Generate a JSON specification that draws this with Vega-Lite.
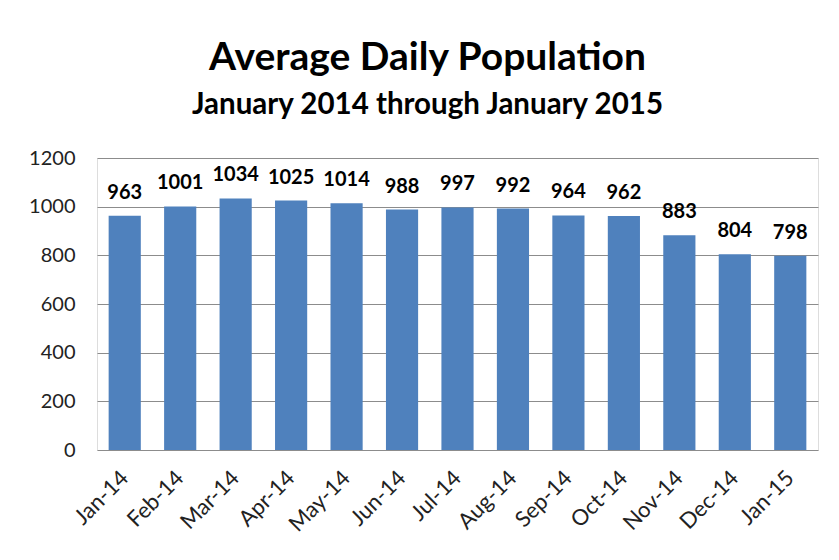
{
  "$schema": "https://vega.github.io/schema/vega-lite/v6.json",
  "width": 721,
  "height": 292,
  "autosize": {"type": "none"},
  "padding": {"left": 97, "top": 158, "right": 21, "bottom": 110},
  "background": "white",
  "title": {
    "text": "Average Daily Population",
    "subtitle": "January 2014 through January 2015",
    "font": "Lato",
    "fontSize": 39,
    "fontWeight": "bold",
    "color": "#000000",
    "subtitleFont": "Lato",
    "subtitleFontSize": 29.5,
    "subtitleFontWeight": "bold",
    "subtitleColor": "#000000",
    "subtitlePadding": 13,
    "anchor": "middle",
    "dx": -30,
    "offset": 29
  },
  "data": {
    "values": [
      {"month": "Jan-14", "pop": 963},
      {"month": "Feb-14", "pop": 1001},
      {"month": "Mar-14", "pop": 1034},
      {"month": "Apr-14", "pop": 1025},
      {"month": "May-14", "pop": 1014},
      {"month": "Jun-14", "pop": 988},
      {"month": "Jul-14", "pop": 997},
      {"month": "Aug-14", "pop": 992},
      {"month": "Sep-14", "pop": 964},
      {"month": "Oct-14", "pop": 962},
      {"month": "Nov-14", "pop": 883},
      {"month": "Dec-14", "pop": 804},
      {"month": "Jan-15", "pop": 798}
    ]
  },
  "encoding": {
    "x": {
      "field": "month",
      "type": "nominal",
      "sort": null,
      "scale": {"paddingInner": 0.42, "paddingOuter": 0.21},
      "axis": {
        "title": null,
        "grid": false,
        "labelAngle": -45,
        "labelAlign": "right",
        "labelBaseline": "middle",
        "labelFont": "Lato",
        "labelFontSize": 22,
        "labelColor": "#222222",
        "labelPadding": 24,
        "ticks": false,
        "domain": false
      }
    },
    "y": {
      "field": "pop",
      "type": "quantitative",
      "scale": {"domain": [0, 1200], "nice": false},
      "axis": {
        "title": null,
        "format": "d",
        "values": [0, 200, 400, 600, 800, 1000, 1200],
        "labelFont": "Lato",
        "labelFontSize": 20,
        "labelColor": "#222222",
        "labelPadding": 22,
        "ticks": false,
        "domain": false,
        "grid": true,
        "gridColor": "#8c8c8c",
        "gridWidth": 1
      }
    }
  },
  "layer": [
    {"mark": {"type": "bar", "color": "#4F81BD"}},
    {
      "mark": {
        "type": "text",
        "font": "Lato",
        "fontSize": 20,
        "fontWeight": "bold",
        "color": "#000000",
        "baseline": "alphabetic",
        "dy": -17
      },
      "encoding": {"text": {"field": "pop", "type": "quantitative"}}
    }
  ]
}
